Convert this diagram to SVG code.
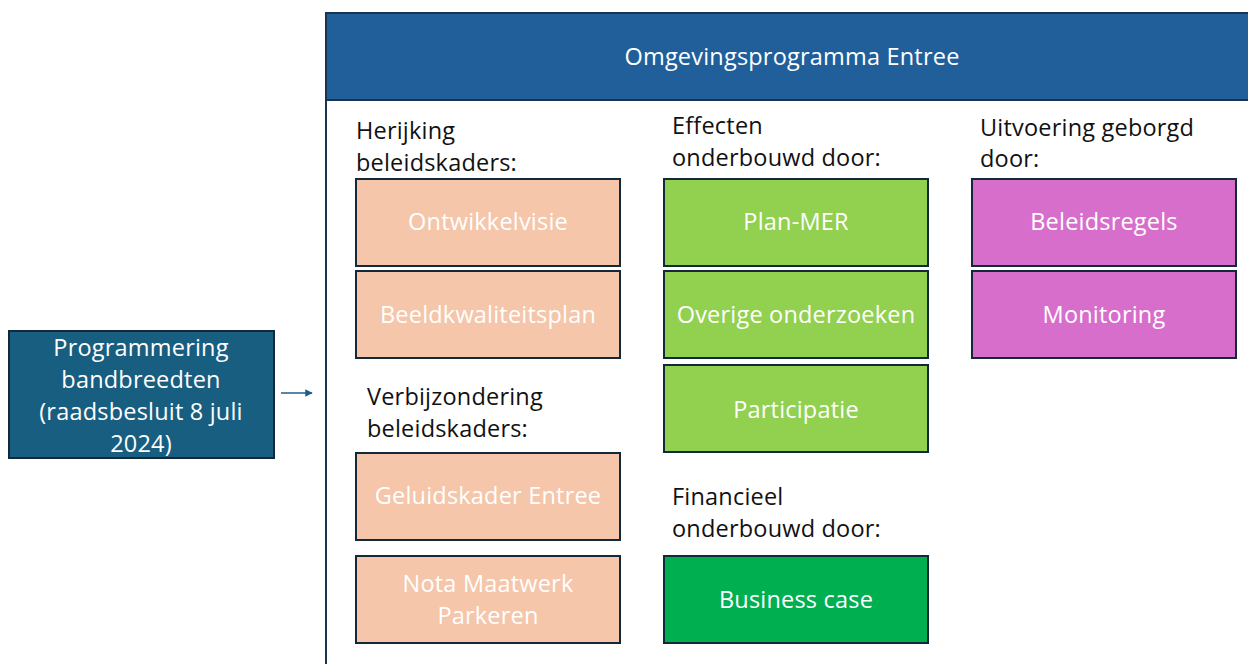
<svg xmlns="http://www.w3.org/2000/svg" width="1248" height="664" viewBox="0 0 1248 664">
<defs>
<marker id="ah" viewBox="0 0 10 10" refX="9" refY="5" markerWidth="5" markerHeight="5" orient="auto"><path d="M0,0 L10,5 L0,10 z" fill="#1F5E8A"/></marker>
<style>
text{font-family:"Open Sans","Liberation Sans",sans-serif;font-size:23.5px;letter-spacing:0.2px}
.w{fill:#FFFFFF;text-anchor:middle}
.b{fill:#111111}
.box{stroke:#13293A;stroke-width:2}
.peach{fill:#F5C6AA}
.lg{fill:#92D050}
.dg{fill:#00B050}
.mg{fill:#D86ECC}
</style>
</defs>
<rect width="1248" height="664" fill="#FFFFFF"/>
<g id="frame">
<rect x="326" y="13" width="930" height="670" fill="#FFFFFF" stroke="#1A3350" stroke-width="2"/>
<rect x="326" y="13" width="930" height="87" fill="#215F9A" stroke="#1A3350" stroke-width="2"/>
<text class="w" x="792" y="65">Omgevingsprogramma Entree</text>
</g>
<g id="labels">
<text class="b" x="356" y="139">Herijking</text>
<text class="b" x="356" y="171">beleidskaders:</text>
<text class="b" x="672" y="134">Effecten</text>
<text class="b" x="672" y="166">onderbouwd door:</text>
<text class="b" x="980" y="136">Uitvoering geborgd</text>
<text class="b" x="980" y="167">door:</text>
<text class="b" x="367" y="405">Verbijzondering</text>
<text class="b" x="367" y="437">beleidskaders:</text>
<text class="b" x="672" y="505">Financieel</text>
<text class="b" x="672" y="537">onderbouwd door:</text>
</g>
<g id="programmering">
<rect x="9" y="331" width="265" height="127" fill="#185E80" class="box"/>
<text class="w" x="141" y="356">Programmering</text>
<text class="w" x="141" y="388">bandbreedten</text>
<text class="w" x="141" y="420">(raadsbesluit 8 juli</text>
<text class="w" x="141" y="452">2024)</text>
</g>
<g id="ontwikkelvisie"><rect x="356" y="179" width="264" height="87" class="box peach"/><text class="w" x="488" y="230">Ontwikkelvisie</text></g>
<g id="beeldkwaliteitsplan"><rect x="356" y="271" width="264" height="87" class="box peach"/><text class="w" x="488" y="323">Beeldkwaliteitsplan</text></g>
<g id="geluidskader"><rect x="356" y="453" width="264" height="87" class="box peach"/><text class="w" x="488" y="504">Geluidskader Entree</text></g>
<g id="nota"><rect x="356" y="556" width="264" height="87" class="box peach"/><text class="w" x="488" y="592">Nota Maatwerk</text><text class="w" x="488" y="624">Parkeren</text></g>
<g id="planmer"><rect x="664" y="179" width="264" height="87" class="box lg"/><text class="w" x="796" y="230">Plan-MER</text></g>
<g id="overige"><rect x="664" y="271" width="264" height="87" class="box lg"/><text class="w" x="796" y="323">Overige onderzoeken</text></g>
<g id="participatie"><rect x="664" y="365" width="264" height="87" class="box lg"/><text class="w" x="796" y="418">Participatie</text></g>
<g id="business"><rect x="664" y="556" width="264" height="87" class="box dg"/><text class="w" x="796" y="608">Business case</text></g>
<g id="beleidsregels"><rect x="972" y="179" width="264" height="87" class="box mg"/><text class="w" x="1104" y="230">Beleidsregels</text></g>
<g id="monitoring"><rect x="972" y="271" width="264" height="87" class="box mg"/><text class="w" x="1104" y="323">Monitoring</text></g>
<g id="connectors">
<line x1="281" y1="393" x2="312" y2="393" stroke="#1F5E8A" stroke-width="1.5" marker-end="url(#ah)"/>
</g>
</svg>
